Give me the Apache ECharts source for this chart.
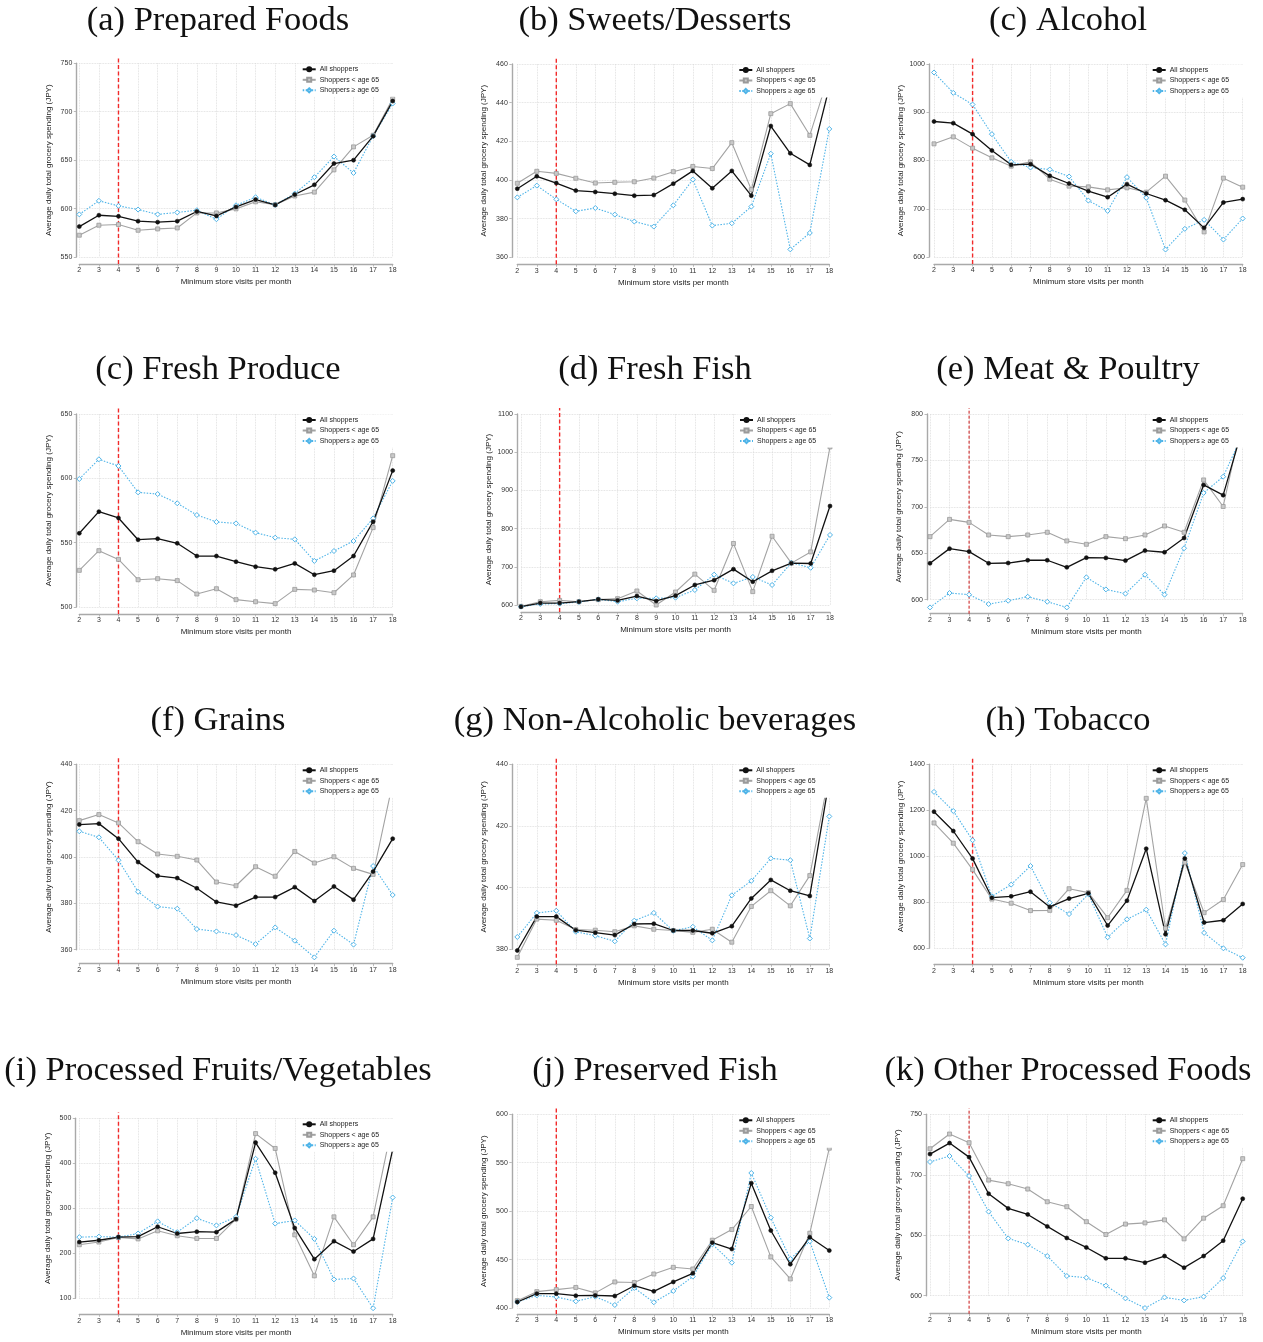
<!DOCTYPE html>
<html><head><meta charset="utf-8">
<script src="https://cdn.jsdelivr.net/npm/echarts@6/dist/echarts.min.js"></script>
<style>html,body{margin:0;padding:0;background:#fff}#c{width:1263px;height:1342px}</style>
</head><body><div id="c"></div>
<script>
// ---------- DATA ----------
const visits = [2,3,4,5,6,7,8,9,10,11,12,13,14,15,16,17,18];
const seriesNames = ['All shoppers', 'Shoppers < age 65', 'Shoppers \u2265 age 65'];
const cutoffVisits = 4;

const preparedTicks = [550,600,650,700,750];
const preparedAll     = [581.4,593.1,592,587,586,587,597,592.4,601.7,609.3,603.8,614.5,624.5,646.5,650,674.8,711];
const preparedUnder65 = [572.5,582.8,583.5,577.6,579,580,595.5,595.5,599.7,607,604,613,617,640,663.7,675.7,713.5];
const preparedOver65  = [594,608,602.8,599,594,596,598.3,589,603.4,611.7,603.8,615.5,632.4,653.7,636.8,674.8,708.5];

const sweetsTicks = [360,380,400,420,440,460];
const sweetsAll     = [395.5,401.9,398.4,394.5,393.8,392.9,391.9,392.2,398.1,404.7,395.7,404.7,391.9,427.9,413.8,407.8,448];
const sweetsUnder65 = [398.3,404.5,403.4,400.9,398.4,398.8,399.1,401,404.3,407,405.9,419.3,395,434.3,439.5,423.1,455];
const sweetsOver65  = [391,397.1,390,383.8,385.5,382.1,378.5,375.9,386.9,400.2,376.4,377.6,386.2,413.6,364.1,372.6,426.4];

const alcoholTicks = [600,700,800,900,1000];
const alcoholAll     = [880.8,877.4,854.6,820.7,791,792.4,768.2,752.3,736.4,724,751,731.6,717.8,697.8,660.4,713,720];
const alcoholUnder65 = [834.5,849,825.6,805.5,788.3,797.2,761.3,746.8,745.4,739.2,743.4,734.4,767.5,718,652,763.4,744.7];
const alcoholOver65  = [982.4,940.2,916,854.6,797.2,785.5,781.3,766.8,717,695.6,765.5,722.6,615.5,658.3,677,636.2,679.8];

const produceTicks = [500,550,600,650];
const produceAll     = [557.3,574.1,569.2,552.3,553.1,549.5,539.6,539.6,535.2,531.3,529.3,533.9,525.1,528.2,539.6,566.3,606];
const produceUnder65 = [528.5,543.8,537,521.2,522,520.5,510.1,514.2,505.7,504.1,502.6,513.7,513.2,511.1,524.9,561.7,617.6];
const produceOver65  = [599.5,614.8,609.6,589.1,587.8,580.6,571.5,566.1,565,557.8,553.9,552.6,535.8,543.5,551.3,568.9,598];

const fishTicks = [600,700,800,900,1000,1100];
const fishAll     = [595.6,605,605,608.7,614.8,612,623.5,610.5,624.4,652.4,665,693.8,661,689.5,709.6,708.7,859];
const fishUnder65 = [596.5,608.7,612,608.7,614,616.6,636.7,600,634,680.8,638.4,761,635,780,709.6,739,1014];
const fishOver65  = [595.6,602.6,603.5,608,614.8,608.7,617.5,617.5,619.2,639.3,679.5,656.7,673.4,652.4,710.5,697.4,783.4];

const meatTicks = [600,650,700,750,800];
const meatAll     = [639.2,655,651.8,639.2,639.5,642.5,642.5,634.9,645.3,645,642.1,652.9,651.1,666.5,723.6,712.6,785];
const meatUnder65 = [667.9,686.5,683.3,669.7,667.9,669.7,672.6,663.3,659.7,667.9,665.7,669.7,679.4,672.6,729,700.4,795];
const meatOver65  = [591.7,607.2,605.4,595.3,598.9,603.2,597.8,591.7,624.1,611.1,606.5,626.9,605.4,655.4,715,732.5,778];

const grainsTicks = [360,380,400,420,440];
const grainsAll     = [414,414.4,407.9,397.8,391.9,390.9,386.5,380.6,379,382.7,382.7,387,381,387.3,381.6,393.7,407.9];
const grainsUnder65 = [415.7,418.3,414.7,406.6,401.3,400.3,398.7,389.2,387.6,395.8,391.7,402.4,397.4,400.1,395.1,392.5,432];
const grainsOver65  = [411.1,408.5,398.6,385,378.6,377.7,368.9,367.9,366.3,362.4,369.6,363.9,356.7,368.2,362.2,396.1,383.6];

const bevTicks = [380,400,420,440];
const bevAll     = [379.6,390.6,390.6,386.2,385.4,384.6,388.2,388.3,386.1,386.1,385.2,387.5,396.5,402.5,399,397.3,435];
const bevUnder65 = [377.4,389.8,389.4,386.4,386.2,385.7,387.6,386.5,386.1,385.5,386.5,382.3,393.9,399,394.1,403.9,437];
const bevOver65  = [384,391.8,392.5,385.7,384.4,382.6,389.3,391.8,386,387.3,382.9,397.5,402.2,409.5,408.9,383.5,423.1];

const tobaccoTicks = [600,800,1000,1200,1400];
const tobaccoAll     = [1194,1110,990,820,826,846,780,816,839,699,807,1033,661,990,712,722,793];
const tobaccoUnder65 = [1145,1057,942,814,796,764,765,859,842,733,852,1252,687,974,755,812,964];
const tobaccoOver65  = [1280,1197,1070,826,877,958,798,749,835,648,726,768,617,1014,667,600,559];

const fruitVegTicks = [100,200,300,400,500];
const fruitVegAll     = [225,229,236,237,259,244,248,247,276,446,379,256,187,227,204,232,431];
const fruitVegUnder65 = [219,225,235,232,250,239,233,233,276,466,433,241,150,281,219,281,490];
const fruitVegOver65  = [236,237,236,244,271,247,278,262,281,410,266,273,232,142,144,78,324];

const presFishTicks = [400,450,500,550,600];
const presFishAll     = [406.2,414.8,414.8,412.7,413,412.4,423,417.2,426.9,435.8,467.5,460.9,528.9,480,445.2,473.1,459.3];
const presFishUnder65 = [407.6,416.9,419,421.2,415.6,426.9,426.3,435.1,442,440.3,470,481,504.8,452.8,430,477.2,565];
const presFishOver65  = [406.2,413,411.4,406.9,411.7,403.1,420.7,405.9,417.6,432.4,465.8,446.8,539.4,493.3,450.7,468.9,410.7];

const otherTicks = [600,650,700,750];
const otherAll     = [717.1,726.2,714.6,684.3,672.2,667.2,657.3,647.7,639.9,630.9,630.9,627.3,632.8,623.2,632.8,645.5,680.2];
const otherUnder65 = [721.5,733.7,726.5,695.6,692.6,688.2,677.7,673.6,661.2,650.6,659.2,660.2,662.7,647,664.1,674.4,713.3];
const otherOver65  = [710.6,715.5,699,669.5,647.4,642.2,632.8,616.3,614.9,608.3,597.8,589.8,598.6,596.1,599.2,614.6,644.9];

const panels = [
  {title:'(a) Prepared Foods', ticks:preparedTicks, all:preparedAll, under:preparedUnder65, over:preparedOver65},
  {title:'(b) Sweets/Desserts', ticks:sweetsTicks, all:sweetsAll, under:sweetsUnder65, over:sweetsOver65},
  {title:'(c) Alcohol', ticks:alcoholTicks, all:alcoholAll, under:alcoholUnder65, over:alcoholOver65},
  {title:'(c) Fresh Produce', ticks:produceTicks, all:produceAll, under:produceUnder65, over:produceOver65},
  {title:'(d) Fresh Fish', ticks:fishTicks, all:fishAll, under:fishUnder65, over:fishOver65},
  {title:'(e) Meat & Poultry', ticks:meatTicks, all:meatAll, under:meatUnder65, over:meatOver65},
  {title:'(f) Grains', ticks:grainsTicks, all:grainsAll, under:grainsUnder65, over:grainsOver65},
  {title:'(g) Non-Alcoholic beverages', ticks:bevTicks, all:bevAll, under:bevUnder65, over:bevOver65},
  {title:'(h) Tobacco', ticks:tobaccoTicks, all:tobaccoAll, under:tobaccoUnder65, over:tobaccoOver65},
  {title:'(i) Processed Fruits/Vegetables', ticks:fruitVegTicks, all:fruitVegAll, under:fruitVegUnder65, over:fruitVegOver65},
  {title:'(j) Preserved Fish', ticks:presFishTicks, all:presFishAll, under:presFishUnder65, over:presFishOver65},
  {title:'(k) Other Processed Foods', ticks:otherTicks, all:otherAll, under:otherUnder65, over:otherOver65}
];

// ---------- LAYOUT (pixels) ----------
const layout = [
  {l:79.3, r:392.7, t:63.3, b:257.0, yOff:3, xOff:7, tx:218, ty:3, dark:false},
  {l:517.3, r:829.3, t:64.0, b:257.3, yOff:5.5, xOff:7, tx:655, ty:3, dark:false},
  {l:934, r:1242.7, t:64.0, b:257.0, yOff:5, xOff:7, tx:1068, ty:3, dark:false},
  {l:79.3, r:392.7, t:414, b:607, yOff:3, xOff:7, tx:218, ty:352, dark:false},
  {l:521, r:830, t:414, b:605, yOff:4, xOff:7, tx:655, ty:352, dark:false},
  {l:930, r:1242.7, t:414, b:599.7, yOff:3, xOff:14, tx:1068, ty:352, dark:true},
  {l:79.3, r:392.7, t:764.3, b:949.7, yOff:3, xOff:14, tx:218, ty:703, dark:false},
  {l:517.3, r:829.3, t:764.3, b:949.3, yOff:5.5, xOff:15, tx:655, ty:703, dark:false},
  {l:934, r:1242.7, t:764.3, b:948.3, yOff:5, xOff:16, tx:1068, ty:703, dark:false},
  {l:79.3, r:392.7, t:1118.3, b:1298.3, yOff:4, xOff:16, tx:218, ty:1053, dark:false},
  {l:517.3, r:829.3, t:1114.3, b:1308, yOff:5.5, xOff:6, tx:655, ty:1053, dark:false},
  {l:930, r:1242.7, t:1114.3, b:1295.7, yOff:4, xOff:18, tx:1068, ty:1053, dark:true}
];

const SANS = '"Liberation Sans", Arial, Helvetica, sans-serif';
const SERIF = '"Liberation Serif", "DejaVu Serif", serif';
const AXIS_GREY = '#a9a9a9';
const BLUE = '#4fb4e8';

const option = {
  animation:false,
  backgroundColor:'#fff',
  title:[], grid:[], xAxis:[], yAxis:[], legend:[], series:[]
};

panels.forEach((p, i) => {
  const L = layout[i];
  const min = p.ticks[0], max = p.ticks[p.ticks.length - 1], step = p.ticks[1] - p.ticks[0];
  const h = L.b - L.t;
  const perPx = (max - min) / h;
  option.title.push({
    text: p.title, left: L.tx, top: L.ty, textAlign: 'center', padding: 0,
    textStyle: {fontFamily: SERIF, fontSize: 34.5, fontWeight: 'normal', color: '#111'}
  });
  option.grid.push({left: L.l, top: L.t, width: L.r - L.l, height: h, containLabel: false});
  option.xAxis.push({
    type: 'value', gridIndex: i, min: 2, max: 18, interval: 1, offset: L.xOff,
    name: 'Minimum store visits per month', nameLocation: 'middle', nameGap: 14,
    nameTextStyle: {fontFamily: SANS, fontSize: 8, color: '#222'},
    axisLine: {show: true, onZero: false, lineStyle: {color: AXIS_GREY, width: 1.4}},
    axisTick: {show: true, length: 2.5, lineStyle: {color: AXIS_GREY, width: 0.8}},
    axisLabel: {fontFamily: SANS, fontSize: 7, color: '#333', margin: 3},
    splitLine: {show: true, lineStyle: {color: '#d8d8d8', type: 'dotted', width: 0.8}}
  });
  option.yAxis.push({
    type: 'value', gridIndex: i, min: min, max: max, interval: step, offset: L.yOff,
    name: 'Average daily total grocery spending (JPY)', nameLocation: 'middle', nameGap: 24,
    nameTextStyle: {fontFamily: SANS, fontSize: 8, color: '#222'},
    axisLine: {show: true, onZero: false, lineStyle: {color: AXIS_GREY, width: 1.4}},
    axisTick: {show: true, length: 2.5, lineStyle: {color: AXIS_GREY, width: 0.8}},
    axisLabel: {fontFamily: SANS, fontSize: 7, color: '#333', margin: 4, formatter: v => String(v)},
    splitLine: {show: true, lineStyle: {color: '#d8d8d8', type: 'dotted', width: 0.8}}
  });
  option.legend.push({
    orient: 'vertical', left: L.r - 93, top: L.t + 0.5,
    data: seriesNames, itemWidth: 13, itemHeight: 5, itemGap: 3.5,
    padding: [2, 20, 3, 2], backgroundColor: '#fff', selectedMode: false,
    textStyle: {fontFamily: SANS, fontSize: 7, color: '#222', padding: [0, 0, 0, -1]}
  });
  // cutoff line at 4 visits, spanning the plot region down to the x axis
  option.series.push({
    name: 'cutoff', type: 'line', xAxisIndex: i, yAxisIndex: i, clip: false, silent: true,
    data: [[cutoffVisits, min - L.xOff * perPx], [cutoffVisits, max + 6 * perPx]],
    symbol: 'none', z: 1,
    lineStyle: L.dark ? {color: '#c81414', width: 1, type: [3, 2]} : {color: '#f22a2a', width: 1.4, type: [4, 2.5]}
  });
  option.series.push({
    name: seriesNames[1], type: 'line', xAxisIndex: i, yAxisIndex: i, clip: false, z: 3,
    data: visits.map((v, j) => [v, p.under[j]]),
    symbol: 'rect', symbolSize: 4,
    lineStyle: {color: '#a3a3a3', width: 1.1},
    itemStyle: {color: '#c9c9c9', borderColor: '#9a9a9a', borderWidth: 0.8}
  });
  option.series.push({
    name: seriesNames[2], type: 'line', xAxisIndex: i, yAxisIndex: i, clip: false, z: 3,
    data: visits.map((v, j) => [v, p.over[j]]),
    symbol: 'diamond', symbolSize: 5,
    lineStyle: {color: BLUE, width: 1.1, type: [1.5, 1.5]},
    itemStyle: {color: '#ffffff', borderColor: BLUE, borderWidth: 1}
  });
  option.series.push({
    name: seriesNames[0], type: 'line', xAxisIndex: i, yAxisIndex: i, clip: false, z: 3,
    data: visits.map((v, j) => [v, p.all[j]]),
    symbol: 'circle', symbolSize: 4,
    lineStyle: {color: '#111', width: 1.3},
    itemStyle: {color: '#111', borderColor: '#111', borderWidth: 0.6}
  });
});

const chart = echarts.init(document.getElementById('c'), null, {renderer: 'canvas'});
chart.setOption(option);
</script></body></html>
